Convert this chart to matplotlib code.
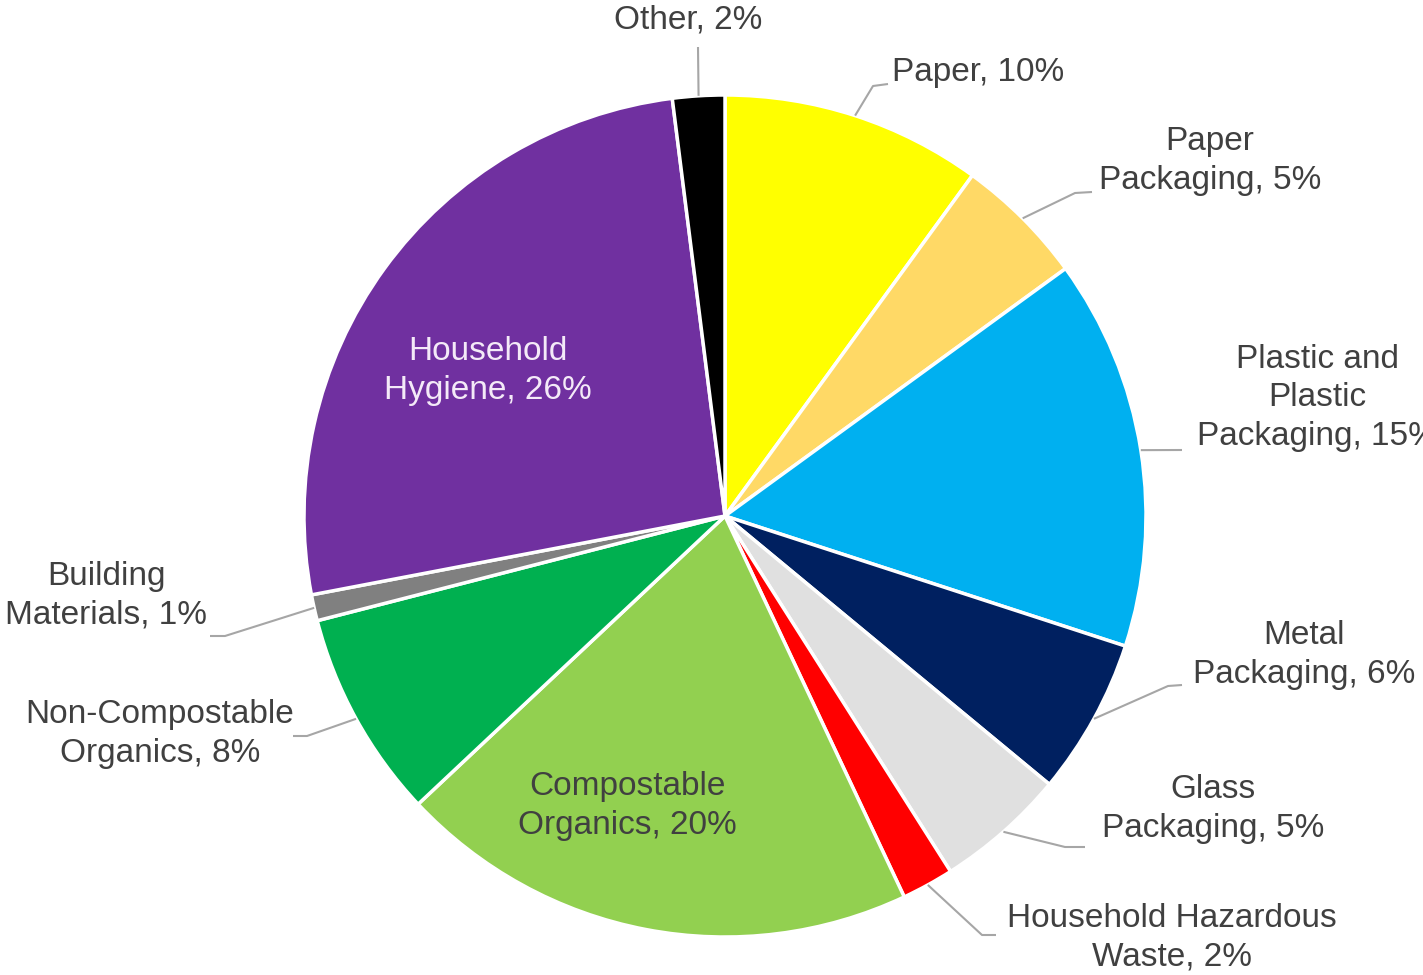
import matplotlib
matplotlib.use("Agg")
import matplotlib.pyplot as plt
import numpy as np

categories = ["Paper", "Paper\nPackaging", "Plastic and\nPlastic\nPackaging", "Metal\nPackaging",
              "Glass\nPackaging", "Household Hazardous\nWaste", "Compostable\nOrganics",
              "Non-Compostable\nOrganics", "Building\nMaterials", "Household\nHygiene", "Other"]
values = [10, 5, 15, 6, 5, 2, 20, 8, 1, 26, 2]
colors = ["#FFFF00", "#FFD966", "#00B0F0", "#002060", "#E0E0E0", "#FF0000", "#92D050",
          "#00B050", "#808080", "#7030A0", "#000000"]

W, H = 1423, 975
fig = plt.figure(figsize=(W / 100, H / 100), dpi=100)
ax = fig.add_axes([0, 0, 1, 1])

cx, cy_img, R = 725, 516, 421
cy = H - cy_img
ax.pie(values, colors=colors, startangle=90, counterclock=False, center=(cx, cy), radius=R,
       wedgeprops=dict(edgecolor="white", linewidth=2.5), frame=True)
ax.set_xlim(0, W)
ax.set_ylim(0, H)
ax.set_aspect("equal")
ax.axis("off")

FONT = "Liberation Sans"
FS = 24
TXT = "#404040"
LINE = "#A6A6A6"

# label layout: (x, y in image px, ha, elbow points in image px or None, color)
layout = {
    "Paper": (892, 73, "left", [(873, 86), (888, 84)], TXT),
    "Paper\nPackaging": (1210, 161, "center", [(1075, 193), (1092, 192)], TXT),
    "Plastic and\nPlastic\nPackaging": (1317, 398, "center", [(1182, 450)], TXT),
    "Metal\nPackaging": (1304, 655, "center", [(1168, 686), (1182, 685)], TXT),
    "Glass\nPackaging": (1213, 809, "center", [(1065, 847), (1085, 847)], TXT),
    "Household Hazardous\nWaste": (1172, 938, "center", [(982, 935), (996, 935)], TXT),
    "Compostable\nOrganics": (627, 806, "center", None, TXT),
    "Non-Compostable\nOrganics": (160, 734, "center", [(307, 736), (293, 736)], TXT),
    "Building\nMaterials": (106, 596, "center", [(225, 636), (210, 636)], TXT),
    "Household\nHygiene": (488, 371, "center", None, "#F4EAF8"),
    "Other": (688, 20, "center", [(698, 47)], TXT),
}

total = sum(values)
start = 0.0
for cat, v in zip(categories, values):
    mid = start + v / 2
    start += v
    x, y, ha, elbow, col = layout[cat]
    label = f"{cat}, {v}%"
    ax.text(x, H - y, label, ha=ha, va="center", fontsize=FS, family=FONT, color=col,
            linespacing=1.3, multialignment="center")
    if elbow:
        ang = np.deg2rad(90 - 360 * mid / total)
        px = [cx + R * np.cos(ang)] + [e[0] for e in elbow]
        py = [cy + R * np.sin(ang)] + [H - e[1] for e in elbow]
        ax.plot(px, py, color=LINE, lw=1.5, solid_capstyle="butt")

fig.savefig("out.png", dpi=100, facecolor="white")
